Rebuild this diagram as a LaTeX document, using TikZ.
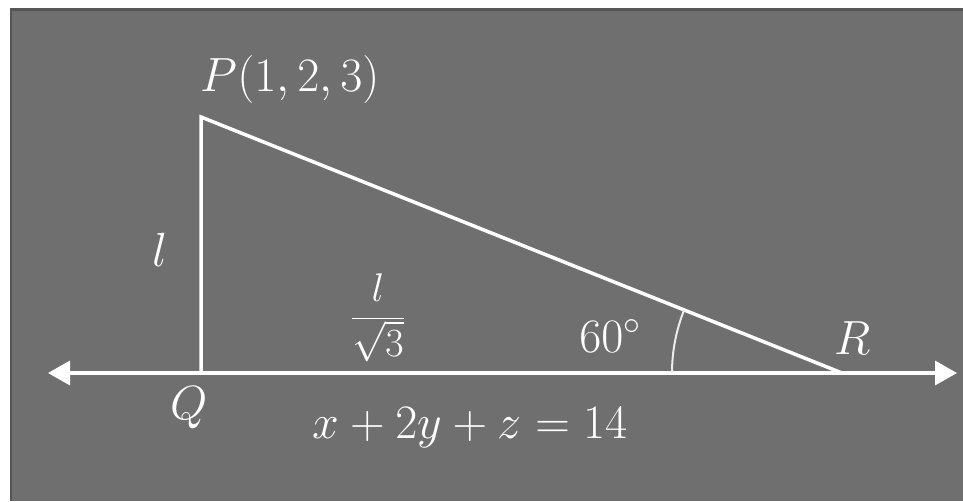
\documentclass[tikz,border=0pt]{standalone}
\usepackage{fix-cm}
\usetikzlibrary{arrows.meta}
\definecolor{bg}{HTML}{6F6F6F}
\definecolor{edge}{HTML}{565656}
\begin{document}
\begin{tikzpicture}[x=1pt,y=-1pt,
  line/.style={white,line width=3.5pt},
  lbl/.style={text=white,font=\fontsize{48}{54}\selectfont,inner sep=0pt},
  ]
\useasboundingbox (0,0) rectangle (963,501);
\fill[white] (0,0) rectangle (963,501);
\fill[bg] (10,8) rectangle (963,501);
\draw[edge,line width=3pt] (10,9.5) -- (963,9.5);
\draw[edge,line width=2pt] (11,8) -- (11,501);
\coordinate (P) at (201,117);
\coordinate (Q) at (201,373);
\coordinate (R) at (842,373);
\coordinate (A) at (48,373);
\coordinate (B) at (957,373);
\draw[line,{Triangle[length=22pt,width=24pt]}-{Triangle[length=22pt,width=24pt]}] (A) -- (B);
\draw[line] (Q) -- (P) -- (R);
\draw[white!85!gray,line width=2pt] ([shift={(180:170)}]R) arc[start angle=180,end angle=201.8,radius=170];
\node[lbl] (lP) at (290,79) {$P(1,2,3)$};
\node[lbl] (ll) at (160,250) {$l$};
\node[lbl,font=\fontsize{40}{46}\selectfont] (lfrac) at (378,318) {$\displaystyle\frac{l}{\sqrt{3}}$};
\node[lbl] (l60) at (610,336) {$60^\circ$};
\node[lbl] (lR) at (853,338) {$R$};
\node[lbl] (lQ) at (189,408) {$Q$};
\node[lbl] (leq) at (470,428) {$x+2y+z=14$};
\end{tikzpicture}
\end{document}
